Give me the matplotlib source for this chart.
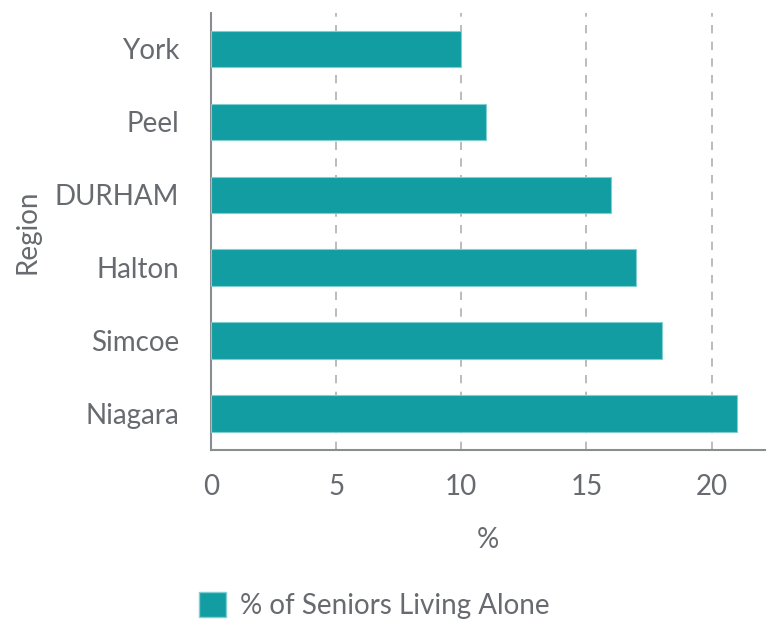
import numpy as np
import matplotlib
matplotlib.use("Agg")
import matplotlib.pyplot as plt
from matplotlib.patches import Patch

regions = ["York", "Peel", "DURHAM", "Halton", "Simcoe", "Niagara"]
pct_alone = [10, 11, 16, 17, 18, 21]
x_ticks = [0, 5, 10, 15, 20]
series_name = "% of Seniors Living Alone"

bar_color = "#119da1"
text_color = "#676b70"

plt.rcParams['font.family'] = ['Lato', 'DejaVu Sans']

fig = plt.figure(figsize=(7.7, 6.25), dpi=100, facecolor='w')
ax = fig.add_axes([0.274, 0.28, 0.72, 0.70])

y = np.arange(len(regions))
ax.barh(y, pct_alone, height=0.5, color=bar_color, edgecolor="#7fcfd0",
        linewidth=0.8, zorder=3)

ax.set_ylim(len(regions) - 0.5, -0.5)
ax.set_xlim(0, 22.15)
ax.set_yticks(y)
ax.set_yticklabels(regions)
ax.set_xticks(x_ticks)
ax.set_xticklabels([str(t) for t in x_ticks])
ax.tick_params(axis='both', length=0, labelsize=20, labelcolor=text_color)
ax.tick_params(axis='y', pad=23)
ax.tick_params(axis='x', pad=17)

# dashed grid lines, not at 0
for t in x_ticks[1:]:
    ax.axvline(t, color="#b0b0b0", linestyle=(0, (5, 5)), linewidth=1.2,
               zorder=1)

for s in ['top', 'right']:
    ax.spines[s].set_visible(False)
for s in ['left', 'bottom']:
    ax.spines[s].set_color("#8a8d90")
    ax.spines[s].set_linewidth(1.5)

ax.set_xlabel("%", fontsize=20, color=text_color, labelpad=20)
ax.set_ylabel("Region", fontsize=20, color=text_color, labelpad=10)

fig.legend(handles=[Patch(facecolor=bar_color, edgecolor="#7fcfd0",
                          label=series_name)],
           loc='center', bbox_to_anchor=(0.486, 0.031), frameon=False,
           fontsize=20, labelcolor=text_color, handlelength=1.0,
           handleheight=1.0, handletextpad=0.5)

fig.savefig("out.png", dpi=100, facecolor='w')
